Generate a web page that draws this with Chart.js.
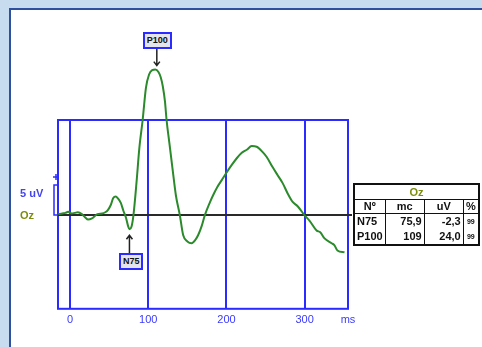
<!DOCTYPE html>
<html>
<head>
<meta charset="utf-8">
<script src="https://cdn.jsdelivr.net/npm/chart.js@4.4.1/dist/chart.umd.min.js"></script>
<style>
  html, body { margin: 0; padding: 0; }
  body { width: 482px; height: 347px; background: #c8dcf0; position: relative; overflow: hidden; font-family: Arial, "Liberation Sans", sans-serif; }
  #panel { position: absolute; left: 9px; top: 8px; width: 500px; height: 400px; background: #fff; border: 2px solid #2f4f9f; }
  #chart { position: absolute; left: 0; top: 0; }
  .lbl { position: absolute; font-weight: bold; font-size: 11px; line-height: 12px; white-space: nowrap; }
  .tag { position: absolute; border: 2px solid #2b2bff; background: #e4e4ec; color: #111; font: bold 9px "Liberation Sans Narrow", Arial, sans-serif; line-height: 13px; padding: 0 2px; white-space: nowrap; }
  #peaks { position: absolute; left: 353px; top: 183px; width: 127px; border-collapse: collapse; border: 2px solid #111; font: bold 11px "Liberation Sans Narrow", Arial, sans-serif; color: #111; }
  #peaks td { border-left: 1px solid #111; border-right: 1px solid #111; padding: 0 2px; line-height: 13px; height: 15px; }
  #peaks tr.title td { text-align: center; color: #7c8c0c; border-bottom: 1px solid #111; height: 14px; }
  #peaks tr.head td { text-align: center; border-bottom: 1px solid #111; height: 12px; }
  #peaks td.num { text-align: right; }
  #peaks td.pct { text-align: center; font-size: 7px; }
</style>
</head>
<body>
<div id="panel"></div>
<canvas id="chart" width="482" height="347"></canvas>
<div class="lbl" id="calLabel" style="color:#4444ee">5 uV</div>
<div class="lbl" id="chanLabel" style="color:#7c8c0c">Oz</div>
<table id="peaks"></table>
<script>
// waveform, Oz channel
const timeMs = [-15, -10, -6, -2.6, 2, 6, 10, 15, 19, 23, 28, 31, 35, 41, 45, 48.5, 52, 55, 58.5, 61, 65, 68, 71.5, 74,
  76, 78.5, 81, 85, 88.5, 92.8, 97, 101, 105, 109, 113, 116, 118.5, 121.3, 123.4, 126.8, 131, 135.3, 140.4, 144.7,
  150, 155.5, 160, 164, 168.5, 172.3, 178.7, 184, 188, 194, 200.4, 206.8, 213.2, 219.6, 226, 232.3, 238.7, 246.4,
  251.5, 259.2, 265.5, 271.9, 278.3, 284.7, 291.1, 300, 306.4, 315.3, 320, 325.5, 334.5, 338, 342, 351];
const ampUv = [0.2, 0.3, 0.4, 0.6, 0.3, 0.4, 0.5, 0.2, -0.3, -0.7, -0.5, -0.2, 0.2, 0.3, 0.5, 0.9, 1.7, 2.8, 3.1, 2.8,
  2.0, 0.8, -0.4, -1.7, -2.3, -1.9, 0, 5.5, 11.0, 15.7, 21.0, 23.2, 23.9, 24.0, 23.6, 22.7, 21.3, 18.8, 15.7, 12.1,
  7.7, 3.3, 0, -3.3, -4.3, -4.6, -4.1, -3.2, -1.7, 0, 2.1, 3.6, 4.6, 5.8, 7.1, 8.3, 9.4, 10.3, 10.8, 11.4, 11.3, 10.4,
  9.6, 7.9, 6.6, 5.3, 3.6, 2.2, 1.5, 0, -0.9, -2.5, -2.8, -3.8, -4.6, -4.9, -5.8, -6.1];

// x axis ticks (ms)
const xTicks = [0, 100, 200, 300];

// measured peaks
const peakNames = ["N75", "P100"];
const peakMs = [75.9, 109];
const peakUv = [-2.3, 24.0];
const peakPct = ["99", "99"];
const calUv = 5;

const BLUE = "#2b2bff";

const fmt = (v, d) => v.toFixed(d).replace(".", ",");

function arrow(ctx, x, y0, y1) {
  const dir = y1 > y0 ? 1 : -1;
  ctx.beginPath();
  ctx.moveTo(x, y0);
  ctx.lineTo(x, y1);
  ctx.moveTo(x - 3, y1 - dir * 4);
  ctx.lineTo(x, y1);
  ctx.lineTo(x + 3, y1 - dir * 4);
  ctx.stroke();
}

const framePlugin = {
  id: "frame",
  beforeDatasetsDraw(chart) {
    const { ctx, chartArea: a, scales: { y } } = chart;
    ctx.save();
    ctx.strokeStyle = BLUE;
    ctx.lineWidth = 2;
    ctx.strokeRect(a.left, a.top, a.right - a.left, a.bottom - a.top);
    // zero line
    const y0 = Math.round(y.getPixelForValue(0));
    ctx.strokeStyle = "#2a2a2a";
    ctx.beginPath();
    ctx.moveTo(a.left, y0);
    ctx.lineTo(a.right + 4, y0);
    ctx.stroke();
    // calibration bracket
    const yc = Math.round(y.getPixelForValue(calUv));
    const bx = a.left - 4;
    ctx.strokeStyle = BLUE;
    ctx.lineWidth = 1.5;
    ctx.beginPath();
    ctx.moveTo(a.left, yc);
    ctx.lineTo(bx, yc);
    ctx.lineTo(bx, y0);
    ctx.lineTo(a.left, y0);
    ctx.stroke();
    // plus sign
    ctx.beginPath();
    ctx.moveTo(bx - 1, yc - 8);
    ctx.lineTo(bx + 5, yc - 8);
    ctx.moveTo(bx + 2, yc - 11);
    ctx.lineTo(bx + 2, yc - 5);
    ctx.stroke();
    ctx.restore();
  },
  afterDatasetsDraw(chart) {
    const { ctx, scales: { x, y } } = chart;
    ctx.save();
    ctx.strokeStyle = "#222";
    ctx.lineWidth = 1.5;
    const nx = x.getPixelForValue(peakMs[0]), ny = y.getPixelForValue(peakUv[0]);
    arrow(ctx, nx, ny + 24, ny + 6);
    const px = x.getPixelForValue(peakMs[1]) + 1.5, py = y.getPixelForValue(peakUv[1]);
    arrow(ctx, px, py - 21, py - 4);
    ctx.restore();
  }
};

const chart = new Chart(document.getElementById("chart"), {
  type: "line",
  data: {
    datasets: [{
      data: timeMs.map((t, i) => ({ x: t, y: ampUv[i] })),
      borderColor: "#2b8a2b",
      borderWidth: 2,
      pointRadius: 0,
      cubicInterpolationMode: "monotone",
      clip: false
    }]
  },
  options: {
    responsive: false,
    animation: false,
    layout: { padding: { left: 58, top: 120, right: 134, bottom: 15 } },
    plugins: { legend: { display: false }, tooltip: { enabled: false } },
    scales: {
      x: {
        type: "linear",
        min: -15.5,
        max: 355.5,
        afterBuildTicks: (axis) => {
          axis.ticks = xTicks.concat([axis.max]).map(v => ({ value: v }));
        },
        ticks: {
          autoSkip: false,
          maxRotation: 0,
          padding: 5,
          color: "#3a3aff",
          font: { family: "Arial, 'Liberation Sans', sans-serif", size: 11 },
          callback: (v) => v === 355.5 ? "ms" : String(v)
        },
        grid: { color: BLUE, lineWidth: 2, drawTicks: false },
        border: { display: false }
      },
      y: {
        display: false,
        min: -15.4,
        max: 15.7
      }
    }
  },
  plugins: [framePlugin]
});

// labels placed from the scales
const sx = chart.scales.x, sy = chart.scales.y;
const zeroY = sy.getPixelForValue(0);
const calY = sy.getPixelForValue(calUv);
const cal = document.getElementById("calLabel");
cal.style.left = "20px";
cal.style.top = (calY + 2) + "px";
const chan = document.getElementById("chanLabel");
chan.style.left = "20px";
chan.style.top = (zeroY - 6) + "px";

peakNames.forEach((name, i) => {
  const tag = document.createElement("div");
  tag.className = "tag";
  tag.textContent = name;
  document.body.appendChild(tag);
  const w = tag.offsetWidth, h = tag.offsetHeight;
  const cx = sx.getPixelForValue(peakMs[i]) + 2;
  const py = sy.getPixelForValue(peakUv[i]);
  tag.style.left = (cx - w / 2) + "px";
  tag.style.top = (peakUv[i] > 0 ? py - 21 - h : py + 24) + "px";
});

// peak table
const table = document.getElementById("peaks");
let html = '<tr class="title"><td colspan="4">Oz</td></tr>';
html += '<tr class="head"><td style="width:25px">Nº</td><td style="width:34px">mc</td><td style="width:34px">uV</td><td>%</td></tr>';
peakNames.forEach((name, i) => {
  html += "<tr><td>" + name + '</td><td class="num">' + (peakMs[i] >= 100 ? fmt(peakMs[i], 0) : fmt(peakMs[i], 1)) +
    '</td><td class="num">' + fmt(peakUv[i], 1) + '</td><td class="pct">' + peakPct[i] + "</td></tr>";
});
table.innerHTML = html;
</script>
</body>
</html>
